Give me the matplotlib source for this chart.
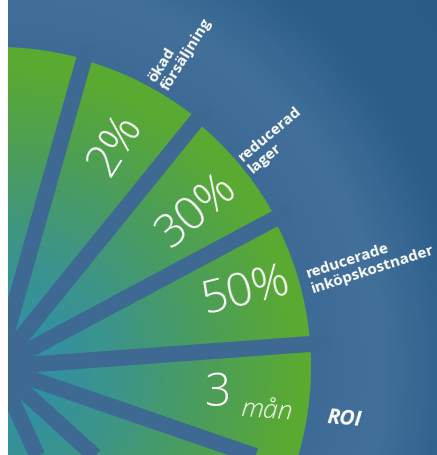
import numpy as np
import matplotlib.pyplot as plt
from matplotlib.colors import LinearSegmentedColormap
from matplotlib.patches import Polygon

plt.rcParams['font.family'] = ['Open Sans', 'DejaVu Sans']

# bild i pixlar
W, H = 437, 455
cx, cy = -3, 367          # solfjaderns centrum

# strålar (grader) och segmentens radier
ray_angles = [97.5, 74.2, 51.0, 28.1, 4.2, -19.0, -42.3, -65.6, -88.9, -112.0]
wedge_radius = [320, 319, 316, 314, 314, 314, 314, 314, 314]

big_labels = ["2%", "30%", "50%"]
big_pos = [(116, 145), (197, 211), (246, 292)]
big_rot = [58, 40, 14]

small_labels = ["ökad\nförsäljning", "reducerad\nlager", "reducerade\ninköpskostnader"]
small_pos = [(180, 50), (275, 140), (370, 262)]
small_rot = [58, 40, 18]

roi_value = "3"
roi_unit = "mån"
roi_label = "ROI"

gap_col = '#3d6993'

fig = plt.figure(figsize=(W / 100, H / 100), dpi=100, facecolor='white')
ax = fig.add_axes([8 / W, 0, 1 - 8 / W, 1])
ax.set_xlim(8, W)
ax.set_ylim(H, 0)
ax.axis('off')

# bakgrund: radiell gradient
xx, yy = np.meshgrid(np.arange(W) + 0.5, np.arange(H) + 0.5)
rr = np.hypot(xx - cx, yy - cy)
bg_cmap = LinearSegmentedColormap.from_list('bg', [
    (0.0, gap_col), (0.55, '#3f6c96'), (0.64, '#42709a'),
    (0.78, '#2c5e8a'), (1.0, '#2a5b87')])
ax.imshow(rr / 600, cmap=bg_cmap, vmin=0, vmax=1, extent=[0, W, H, 0],
          interpolation='bilinear', zorder=0)

# gröna segment med gradient
g_cmap = LinearSegmentedColormap.from_list('g', [
    (0.0, '#2a8fb4'), (0.4, '#3c948a'), (0.72, '#4c9e58'), (1.0, '#5aaa32')])
for i in range(len(ray_angles) - 1):
    a1, a2 = ray_angles[i + 1], ray_angles[i]
    t = np.radians(np.linspace(a1, a2, 80))
    r = wedge_radius[i]
    pts = [(cx, cy)] + list(zip(cx + r * np.cos(t), cy - r * np.sin(t)))
    poly = Polygon(pts, closed=True, facecolor='none', edgecolor='none')
    ax.add_patch(poly)
    im = ax.imshow(np.clip(rr / 300, 0, 1), cmap=g_cmap, vmin=0, vmax=1,
                   extent=[0, W, H, 0], interpolation='bilinear', zorder=1)
    im.set_clip_path(poly)

# mellanrum mellan segmenten
for a in ray_angles:
    t = np.radians(a)
    ax.plot([cx, cx + 335 * np.cos(t)], [cy, cy - 335 * np.sin(t)],
            color=gap_col, lw=11.5, solid_capstyle='butt', zorder=2)

for lab, (x, y), rot in zip(big_labels, big_pos, big_rot):
    ax.text(x, y, lab, color='white', fontsize=33, fontweight='light',
            rotation=rot, rotation_mode='anchor', ha='center', va='center', zorder=3)

for lab, (x, y), rot in zip(small_labels, small_pos, small_rot):
    ax.text(x, y, lab, color='white', fontsize=11, fontweight='bold',
            rotation=rot, rotation_mode='anchor', ha='center', va='center',
            multialignment='left', linespacing=1.15, zorder=3)

ax.text(218, 394, roi_value, color='white', fontsize=33, fontweight='light',
        ha='center', va='center', zorder=3)
ax.text(266, 411, roi_unit, color='white', fontsize=19, fontweight='light',
        style='italic', rotation=-4, ha='center', va='center', zorder=3)
ax.text(344, 419, roi_label, color='white', fontsize=15, fontweight='bold',
        style='italic', rotation=-5, ha='center', va='center', zorder=3)

plt.savefig('out.png', dpi=100, facecolor='white')
